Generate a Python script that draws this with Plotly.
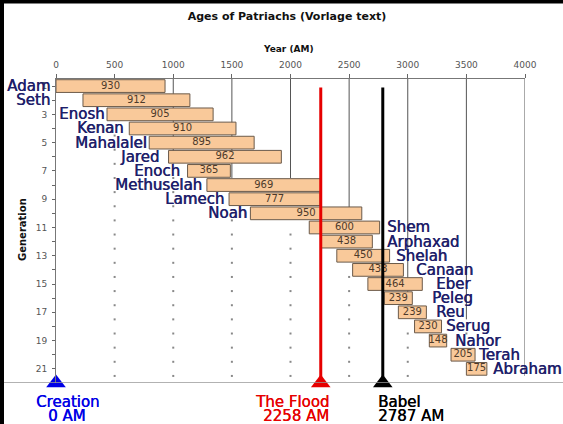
import plotly.graph_objects as go

# ---------------- data ----------------
names = ["Adam", "Seth", "Enosh", "Kenan", "Mahalalel", "Jared", "Enoch",
         "Methuselah", "Lamech", "Noah", "Shem", "Arphaxad", "Shelah", "Canaan",
         "Eber", "Peleg", "Reu", "Serug", "Nahor", "Terah", "Abraham"]
generation = list(range(1, 22))
born_am = [0, 230, 435, 625, 795, 960, 1122, 1287, 1476, 1658, 2160, 2260,
           2395, 2530, 2660, 2800, 2920, 3058, 3184, 3369, 3500]
lifespan = [930, 912, 905, 910, 895, 962, 365, 969, 777, 950, 600, 438,
            450, 433, 464, 239, 239, 230, 148, 205, 175]

event_names = ["Creation", "The Flood", "Babel"]
event_years = [0, 2258, 2787]
event_year_text = ["0 AM", "2258 AM", "2787 AM"]

x_ticks = [0, 500, 1000, 1500, 2000, 2500, 3000, 3500, 4000]
grid_years = [500, 1000, 1500, 2000, 2500, 3000, 3500, 4000]

# ---------------- styling / layout helpers ----------------
W, H = 563, 424
L, R, T, B = 56, 38, 79, 41
PW, PH = W - L - R, H - T - B


def px_x(p):
    return (p - L) / PW


def px_y(p):
    return (H - B - p) / PH


NAVY = "#1e1e6a"
name_font = dict(family="DejaVu Sans", size=15, color=NAVY,
                 shadow="0.6px 0px 0px " + NAVY)
num_font = dict(family="DejaVu Sans", size=10, color="#4d3a2a")
tick_font = dict(family="DejaVu Sans", size=9, color="#555555")
event_colors = ["#0000e6", "#e60000", "#000000"]
# how many generations each solid gridline reaches down to (dotted below)
grid_solid_to = [0.5, 6.5, 7.5, 7.5, 10.5, 16.5, 17.5, 21.5]
# pixel gaps between the bar and its name label
name_gap = [6, 33, 3, 5, 2, 10, 8, 5, 5, 3,
            7, 15, 6, 13, 14, 20, 10, 4, 8, 3, 6]
split = 10  # first ten labelled on the left, rest on the right

end_am = [b + l for b, l in zip(born_am, lifespan)]
mid_am = [b + l / 2 for b, l in zip(born_am, lifespan)]

fig = go.Figure()

# bars
fig.add_trace(go.Bar(
    y=generation, x=lifespan, base=born_am, orientation="h",
    width=0.9,
    marker=dict(color="#f9c99a", line=dict(color="#6b5a4a", width=1)),
    hoverinfo="skip", showlegend=False,
))

# lifespan numbers
fig.add_trace(go.Scatter(
    x=mid_am, y=generation, mode="text",
    text=[str(v) for v in lifespan], textfont=num_font,
    textposition="middle center", hoverinfo="skip", showlegend=False,
))

# dotted remainder of gridlines
dot_x, dot_y = [], []
for gx, send in zip(grid_years, grid_solid_to):
    for k in range(1, 22):
        row = k + 0.5
        if row <= send:
            continue
        covered = False
        for g in (k, k + 1):
            if 1 <= g <= 21:
                i = g - 1
                if born_am[i] <= gx <= end_am[i]:
                    covered = True
        if not covered:
            dot_x.append(gx)
            dot_y.append(row)
fig.add_trace(go.Scatter(
    x=dot_x, y=dot_y, mode="markers",
    marker=dict(symbol="square", size=2, color="#888888"),
    hoverinfo="skip", showlegend=False,
))

# event lines + triangles
for i, (yr, col) in enumerate(zip(event_years, event_colors)):
    if i > 0:
        fig.add_trace(go.Scatter(
            x=[yr, yr], y=[1.1, 22], mode="lines",
            line=dict(color=col, width=3), hoverinfo="skip", showlegend=False,
        ))
fig.add_trace(go.Scatter(
    x=event_years, y=[22] * len(event_years), mode="markers",
    marker=dict(symbol="triangle-up", size=17, color=event_colors),
    cliponaxis=False, hoverinfo="skip", showlegend=False,
))

shapes = []
for gx, send in zip(grid_years, grid_solid_to):
    if send > 0.5:
        shapes.append(dict(type="line", xref="x", yref="y", x0=gx, x1=gx,
                           y0=0.5, y1=send, layer="below",
                           line=dict(color="#555555", width=1)))
# bottom baseline spanning the width
shapes.append(dict(type="line", xref="paper", yref="y", x0=px_x(3), x1=px_x(W),
                   y0=22, y1=22, line=dict(color="#999999", width=1.5)))
# left frame (visible part inside the y range)
shapes.append(dict(type="line", xref="paper", yref="y",
                   x0=px_x(2), x1=px_x(2), y0=-3.5, y1=24.8,
                   line=dict(color="#000000", width=4)))

annotations = []
for i, nm in enumerate(names):
    if i < split:
        annotations.append(dict(x=born_am[i], y=generation[i], xref="x", yref="y",
                                text=nm, showarrow=False, xanchor="right",
                                yanchor="middle", xshift=-(name_gap[i] - 2),
                                font=name_font))
    else:
        annotations.append(dict(x=end_am[i], y=generation[i], xref="x", yref="y",
                                text=nm, showarrow=False, xanchor="left",
                                yanchor="middle", xshift=name_gap[i] - 2,
                                font=name_font))

ev_anchor = ["center", "right", "left"]
ev_shift = [11, 10, -7]
for i in range(len(event_names)):
    f = dict(family="DejaVu Sans", size=15, color=event_colors[i],
             shadow="0.4px 0px 0px " + event_colors[i])
    annotations.append(dict(x=event_years[i], y=px_y(402), xref="x", yref="paper",
                            text=event_names[i], showarrow=False,
                            xanchor=ev_anchor[i], yanchor="middle",
                            xshift=ev_shift[i], font=f))
    annotations.append(dict(x=event_years[i], y=px_y(416), xref="x", yref="paper",
                            text=event_year_text[i], showarrow=False,
                            xanchor=ev_anchor[i], yanchor="middle",
                            xshift=ev_shift[i], font=f))

annotations.append(dict(x=px_x(288), y=px_y(49), xref="paper", yref="paper",
                        text="<b>Year (AM)</b>", showarrow=False,
                        xanchor="center", yanchor="middle",
                        font=dict(family="DejaVu Sans", size=9, color="#111111")))
annotations.append(dict(x=px_x(22), y=px_y(230), xref="paper", yref="paper",
                        text="<b>Generation</b>", showarrow=False, textangle=-90,
                        xanchor="center", yanchor="middle",
                        font=dict(family="Liberation Sans Narrow, DejaVu Sans",
                                  size=10, color="#111111")))

fig.update_layout(
    width=W, height=H,
    margin=dict(l=L, r=R, t=T, b=B),
    paper_bgcolor="rgba(0,0,0,0)", plot_bgcolor="white",
    title=dict(text="<b>Ages of Patriachs (Vorlage text)</b>",
               x=287 / W, xref="container", xanchor="center",
               y=1 - 16 / H, yref="container", yanchor="middle",
               font=dict(family="DejaVu Sans", size=11, color="#111111")),
    xaxis=dict(side="top", range=[0, 4000], tickvals=x_ticks,
               ticks="outside", ticklen=4, tickcolor="#666666",
               showline=True, linecolor="#777777", linewidth=1,
               showgrid=False, zeroline=False, tickfont=tick_font,
               ticklabelstandoff=2, fixedrange=True, automargin=False),
    yaxis=dict(range=[22, 0.5], tickvals=generation,
               ticktext=[str(g) if g % 2 == 1 else "" for g in generation],
               ticks="outside", ticklen=3, tickcolor="#666666",
               showline=True, linecolor="#777777", linewidth=1,
               showgrid=False, zeroline=False, tickfont=tick_font,
               ticklabelstandoff=3, fixedrange=True, automargin=False),
    shapes=shapes, annotations=annotations,
    bargap=0.1, showlegend=False,
)

fig.write_html(
    "out.html",
    config={"displayModeBar": False},
    post_script=(
        "document.body.style.margin='0';"
        "document.body.style.overflow='hidden';"
        "document.body.style.background='white';"
        "var d=document.querySelector('.plotly-graph-div');"
        "if(d){d.style.boxShadow='inset 4px 3.5px 0 0 #000';}"
    ),
)
